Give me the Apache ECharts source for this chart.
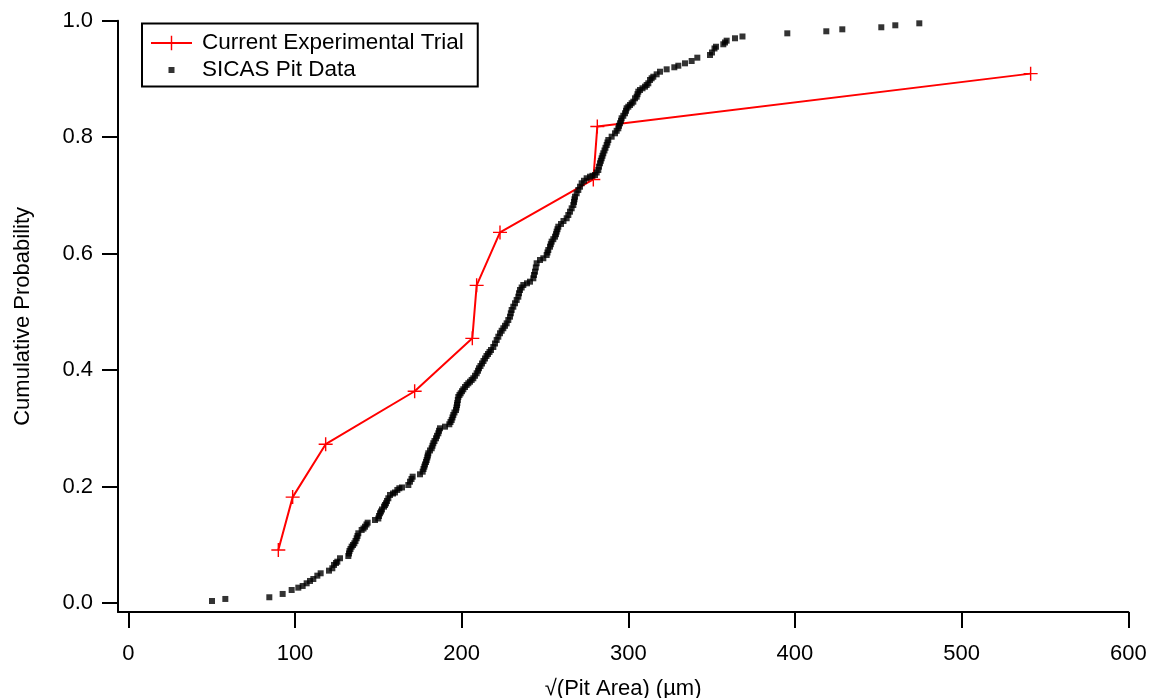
<!DOCTYPE html>
<html>
<head>
<meta charset="utf-8">
<script src="https://cdn.jsdelivr.net/npm/echarts@6/dist/echarts.min.js"></script>
<style>
html,body{margin:0;padding:0;background:#fff;}
#chart{width:1151px;height:698px;}
</style>
</head>
<body>
<div id="chart"></div>
<script>
// ---- Data ----
const trialName = 'Current Experimental Trial';
const sicasName = 'SICAS Pit Data';

const trialX = [90.0, 98.6, 118.4, 171.8, 206.4, 209.0, 223.0, 279.0, 281.4, 541.4];
const trialY = [0.0909, 0.1818, 0.2727, 0.3636, 0.4545, 0.5455, 0.6364, 0.7273, 0.8182, 0.9091];

const sicasX = [50.2,58.2,84.6,92.6,98.0,102.0,104.6,107.0,109.0,111.0,
113.4,115.4,120.4,122.4,123.4,124.6,125.4,127.0,132.0,132.4,
132.7,133.3,134.0,134.8,135.6,136.3,137.0,137.5,138.0,140.0,
141.1,142.0,142.9,143.6,148.0,150.0,150.4,151.0,151.6,152.2,
153.4,154.0,154.6,155.2,156.0,157.0,158.8,160.0,161.4,162.6,
164.2,168.0,169.0,169.9,170.6,175.0,176.6,177.1,177.6,178.0,
178.6,179.0,179.4,179.7,180.0,181.0,182.0,182.5,183.0,183.7,
184.6,185.2,186.0,186.4,187.0,190.0,192.6,193.3,194.0,194.5,
195.0,195.7,196.6,196.9,197.2,197.4,197.7,198.0,198.7,199.4,
200.2,201.0,202.0,203.0,204.0,205.0,206.0,207.0,208.0,209.0,
209.8,210.4,211.3,212.2,213.1,214.0,214.9,215.8,216.7,217.6,
219.0,220.0,221.0,222.0,223.0,224.0,225.0,226.0,227.0,228.0,
229.0,229.5,230.0,231.0,232.0,233.0,234.0,234.4,235.0,236.0,
237.0,239.2,241.0,243.0,243.4,244.0,244.5,245.0,247.0,249.0,
251.0,251.5,252.0,253.0,253.5,254.0,255.0,256.0,256.6,257.0,
257.5,258.0,259.6,261.1,263.0,264.0,265.0,266.0,267.0,267.4,
267.7,268.0,269.0,270.0,271.0,272.0,273.4,275.0,277.0,278.5,
280.0,281.0,282.0,282.4,283.0,283.5,284.0,284.5,285.0,285.7,
286.3,287.0,287.5,288.0,290.0,292.0,293.0,294.0,294.4,295.0,
295.6,296.0,297.0,298.0,298.6,299.0,300.0,301.0,302.0,303.0,
304.0,305.0,305.5,306.0,307.0,308.5,310.0,311.0,312.0,313.0,
314.0,315.0,317.0,319.0,323.0,327.6,330.0,334.0,338.0,341.4,
349.0,350.2,351.7,352.6,357.0,358.0,359.0,364.0,368.5,
395.4,418.8,428.4,451.8,460.2,474.6];

const sicasY = [0.0034,0.0069,0.0098,0.0155,0.0223,0.0263,0.0292,0.0338,0.0378,0.0412,
0.0469,0.0510,0.0555,0.0596,0.0653,0.0687,0.0709,0.0768,0.0807,0.0850,
0.0893,0.0927,0.0967,0.0996,0.1025,0.1065,0.1111,0.1151,0.1197,0.1254,
0.1279,0.1310,0.1348,0.1379,0.1425,0.1451,0.1494,0.1540,0.1571,0.1606,
0.1654,0.1683,0.1712,0.1752,0.1798,0.1855,0.1880,0.1898,0.1941,0.1970,
0.1984,0.2026,0.2083,0.2129,0.2169,0.2210,0.2255,0.2301,0.2341,0.2379,
0.2421,0.2456,0.2499,0.2533,0.2571,0.2619,0.2657,0.2700,0.2743,0.2782,
0.2828,0.2871,0.2914,0.2957,0.3000,0.3028,0.3069,0.3108,0.3143,0.3186,
0.3229,0.3272,0.3314,0.3357,0.3400,0.3435,0.3486,0.3538,0.3572,0.3601,
0.3637,0.3670,0.3709,0.3744,0.3773,0.3800,0.3830,0.3859,0.3902,0.3945,
0.3988,0.4031,0.4070,0.4113,0.4156,0.4199,0.4242,0.4276,0.4311,0.4345,
0.4396,0.4456,0.4517,0.4573,0.4632,0.4675,0.4718,0.4760,0.4803,0.4860,
0.4917,0.4975,0.5032,0.5088,0.5147,0.5204,0.5260,0.5319,0.5375,0.5418,
0.5461,0.5490,0.5518,0.5576,0.5633,0.5690,0.5762,0.5834,0.5890,0.5920,
0.5976,0.6019,0.6062,0.6119,0.6162,0.6205,0.6248,0.6291,0.6334,0.6377,
0.6419,0.6462,0.6509,0.6560,0.6607,0.6663,0.6720,0.6778,0.6835,0.6887,
0.6933,0.6977,0.7036,0.7093,0.7149,0.7208,0.7251,0.7294,0.7321,0.7336,
0.7350,0.7393,0.7436,0.7493,0.7551,0.7594,0.7637,0.7680,0.7723,0.7771,
0.7817,0.7865,0.7908,0.7951,0.8008,0.8066,0.8109,0.8152,0.8195,0.8238,
0.8281,0.8324,0.8367,0.8410,0.8453,0.8496,0.8523,0.8552,0.8582,0.8609,
0.8667,0.8695,0.8738,0.8781,0.8810,0.8839,0.8867,0.8896,0.8925,0.8982,
0.9011,0.9038,0.9079,0.9124,0.9165,0.9200,0.9227,0.9268,0.9308,0.9365,
0.9411,0.9454,0.9523,0.9553,0.9595,0.9626,0.9657,0.9698,0.9729,
0.9783,0.9818,0.9852,0.9887,0.9921,0.9955];

const xTicks = [0, 100, 200, 300, 400, 500, 600];
const yTicks = [0.0, 0.2, 0.4, 0.6, 0.8, 1.0];
const xAxisTitle = '\u221A(Pit Area) (\u00B5m)';
const yAxisTitle = 'Cumulative Probability';

// ---- Build chart ----
const FONT = '"Liberation Sans", Arial, Helvetica, sans-serif';
const zip = (a, b) => a.slice(0, Math.min(a.length, b.length)).map((v, i) => [v, b[i]]);
const crossPath = 'path://M6.3,0h1.4v6.3h6.3v1.4h-6.3v6.3h-1.4v-6.3h-6.3v-1.4h6.3z';

const chart = echarts.init(document.getElementById('chart'), null, {renderer: 'canvas'});
const axisColor = '#000';
chart.setOption({
  animation: false,
  backgroundColor: '#fff',
  textStyle: {fontFamily: FONT},
  grid: {left: 118, right: 22.7, top: 20.7, bottom: 86, containLabel: false, outerBoundsMode: 'none'},
  legend: {
    orient: 'vertical',
    left: 142,
    top: 23.5,
    padding: [8, 14, 5, 8],
    itemGap: 4,
    itemWidth: 41,
    itemHeight: 18,
    borderColor: '#000',
    borderWidth: 2,
    backgroundColor: '#fff',
    textStyle: {fontSize: 22.5, color: '#000', fontFamily: FONT, padding: [0, 0, 0, 5]},
    data: [
      {name: trialName},
      {name: sicasName, icon: 'path://M0,0M41,18M17.5,6h6v6h-6z'}
    ]
  },
  xAxis: {
    type: 'value',
    min: -6.2,
    max: 600,
    name: xAxisTitle,
    nameLocation: 'middle',
    nameGap: 66,
    nameTextStyle: {fontSize: 22, color: '#000', fontFamily: FONT},
    axisLine: {show: true, onZero: false, lineStyle: {color: axisColor, width: 2}},
    axisTick: {show: true, length: 16, customValues: xTicks, lineStyle: {color: axisColor, width: 2}},
    axisLabel: {show: true, customValues: xTicks, margin: 31, fontSize: 22, color: '#000', fontFamily: FONT,
      formatter: v => String(Math.round(v))},
    splitLine: {show: false}
  },
  yAxis: {
    type: 'value',
    min: -0.0155,
    max: 1.0,
    name: yAxisTitle,
    nameLocation: 'middle',
    nameGap: 84,
    nameTextStyle: {fontSize: 22, color: '#000', fontFamily: FONT},
    axisLine: {show: true, onZero: false, lineStyle: {color: axisColor, width: 2}},
    axisTick: {show: true, length: 16, customValues: yTicks, lineStyle: {color: axisColor, width: 2}},
    axisLabel: {show: true, customValues: yTicks, margin: 25, fontSize: 22, color: '#000', fontFamily: FONT,
      formatter: v => Number(v).toFixed(1)},
    splitLine: {show: false}
  },
  series: [
    {
      name: trialName,
      type: 'line',
      data: zip(trialX, trialY),
      symbol: crossPath,
      symbolSize: 14,
      showAllSymbol: true,
      lineStyle: {color: '#ff0000', width: 2},
      itemStyle: {color: '#ff0000'},
      z: 2
    },
    {
      name: sicasName,
      type: 'scatter',
      data: zip(sicasX, sicasY),
      symbol: 'rect',
      symbolSize: 6,
      itemStyle: {color: '#000'},
      z: 3
    }
  ]
});
</script>
</body>
</html>
